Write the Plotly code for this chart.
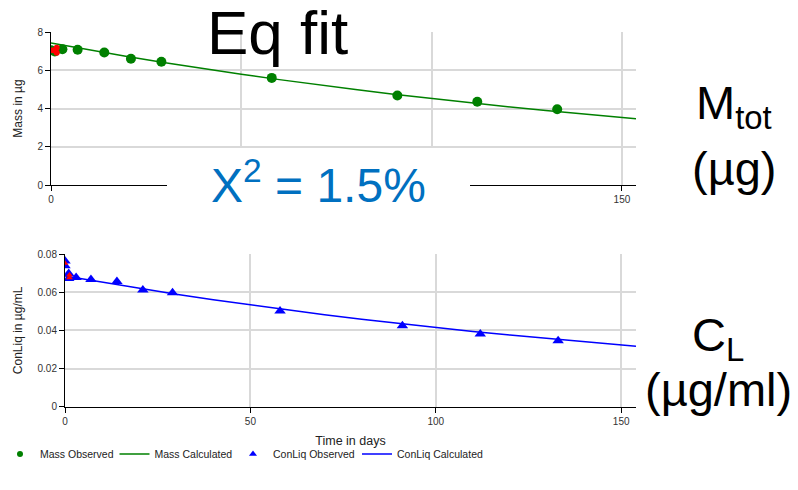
import plotly.graph_objects as go

W, H = 798, 490

# ---- data ----
mass_days = [0, 1, 3, 7, 14, 21, 29, 58, 91, 112, 133]
mass_obs = [7.05, 6.98, 7.1, 7.07, 6.93, 6.6, 6.44, 5.6, 4.68, 4.35, 3.96]
mass_flag_days = [0.5, 1.5, 1.5]
mass_flag = [7.05, 7.18, 6.92]

calc_days = [0, 10, 20, 30, 40, 50, 60, 70, 80, 90, 100, 110, 120, 130, 140, 150, 153.7]
mass_calc = [7.42, 7.06, 6.72, 6.39, 6.08, 5.79, 5.51, 5.24, 4.99, 4.75, 4.52, 4.30, 4.09, 3.89, 3.71, 3.53, 3.47]

conliq_days = [0, 0, 1, 1, 3, 7, 14, 21, 29, 58, 91, 112, 133]
conliq_obs = [0.0763, 0.0738, 0.0698, 0.0672, 0.0677, 0.0667, 0.0656, 0.0611, 0.0597, 0.0501, 0.0424, 0.0381, 0.0346]
conliq_flag_days = [0, 1.2, 1.2]
conliq_flag = [0.0752, 0.0690, 0.0675]

calc_days2 = [0, 10, 20, 30, 40, 50, 60, 70, 80, 90, 100, 110, 120, 130, 140, 150, 154]
conliq_calc = [0.0685, 0.0652, 0.0619, 0.0589, 0.0560, 0.0533, 0.0507, 0.0482, 0.0458, 0.0436,
               0.0415, 0.0394, 0.0375, 0.0357, 0.0339, 0.0323, 0.0317]

x_ticks_top = [0, 150]          # 50 and 100 labels sit behind the chi-square panel
x_ticks = [0, 50, 100, 150]
mass_ticks = [0, 2, 4, 6, 8]
conliq_ticks = [0, 0.02, 0.04, 0.06, 0.08]
conliq_ticklabels = ["0", "0.02", "0.04", "0.06", "0.08"]

GREEN = "#008000"
BLUE = "#0000ff"
RED = "#ff0000"
FONT = "Liberation Sans, Arial, sans-serif"
GRID = "#d9d9d9"

def px_x(p):
    return p / W

def px_y(p):
    return 1 - p / H

fig = go.Figure()

# top panel
fig.add_trace(go.Scatter(x=mass_days, y=mass_obs, mode="markers", xaxis="x", yaxis="y",
                         marker=dict(symbol="circle", size=10, color=GREEN),
                         name="Mass Observed", showlegend=False))
fig.add_trace(go.Scatter(x=calc_days, y=mass_calc, mode="lines", xaxis="x", yaxis="y",
                         line=dict(color=GREEN, width=1.5), name="Mass Calculated", showlegend=False))
fig.add_trace(go.Scatter(x=mass_flag_days, y=mass_flag, mode="markers", xaxis="x", yaxis="y",
                         marker=dict(symbol="circle", size=6, color=RED), showlegend=False))

# bottom panel
fig.add_trace(go.Scatter(x=conliq_days, y=conliq_obs, mode="markers", xaxis="x2", yaxis="y2",
                         marker=dict(symbol="triangle-up", size=10, color=BLUE),
                         name="ConLiq Observed", showlegend=False))
fig.add_trace(go.Scatter(x=calc_days2, y=conliq_calc, mode="lines", xaxis="x2", yaxis="y2",
                         line=dict(color=BLUE, width=1.5), name="ConLiq Calculated", showlegend=False))
fig.add_trace(go.Scatter(x=conliq_flag_days, y=conliq_flag, mode="markers", xaxis="x2", yaxis="y2",
                         marker=dict(symbol="triangle-up", size=6, color=RED), showlegend=False))

# legend entries (no data, legend symbols only)
fig.add_trace(go.Scatter(x=[None], y=[None], mode="markers", xaxis="x2", yaxis="y2",
                         marker=dict(symbol="circle", size=6, color=GREEN), name="Mass Observed",
                         legendwidth=69.5))
fig.add_trace(go.Scatter(x=[None], y=[None], mode="lines", xaxis="x2", yaxis="y2",
                         line=dict(color=GREEN, width=1.5), name="Mass Calculated",
                         legendwidth=73.5))
fig.add_trace(go.Scatter(x=[None], y=[None], mode="markers", xaxis="x2", yaxis="y2",
                         marker=dict(symbol="triangle-up", size=7, color=BLUE), name="ConLiq Observed",
                         legendwidth=79))
fig.add_trace(go.Scatter(x=[None], y=[None], mode="lines", xaxis="x2", yaxis="y2",
                         line=dict(color=BLUE, width=1.5), name="ConLiq Calculated",
                         legendwidth=95))

axis_common = dict(showgrid=True, gridcolor=GRID, gridwidth=1.5, zeroline=False,
                   showline=True, linecolor="#000000", linewidth=1,
                   ticks="outside", ticklen=5, tickcolor="#000000",
                   tickfont=dict(size=10, color="#333333", family=FONT))

fig.update_layout(
    width=W, height=H,
    margin=dict(l=0, r=0, t=0, b=0, autoexpand=False),
    paper_bgcolor="white", plot_bgcolor="white",
    font=dict(family=FONT, color="#222222"),
    xaxis=dict(domain=[px_x(51), px_x(636)], range=[0, 153.7], anchor="y",
               tickvals=x_ticks_top,
               minor=dict(tick0=0, dtick=50, showgrid=True, gridcolor=GRID, gridwidth=1.5, ticks=""),
               **axis_common),
    yaxis=dict(domain=[px_y(185), px_y(32)], range=[0, 8], anchor="x",
               tickvals=mass_ticks,
               title=dict(text="Mass in µg", font=dict(size=12, color="#222222"), standoff=12),
               **axis_common),
    xaxis2=dict(domain=[px_x(65), px_x(636)], range=[0, 154], anchor="y2",
                tickvals=x_ticks,
                title=dict(text="Time in days", font=dict(size=12.5, color="#222222"), standoff=10),
                **axis_common),
    yaxis2=dict(domain=[px_y(406.7), px_y(254)], range=[0, 0.08], anchor="x2",
                tickvals=conliq_ticks, ticktext=conliq_ticklabels,
                title=dict(text="ConLiq in µg/mL", font=dict(size=12, color="#222222"), standoff=12),
                **axis_common),
    legend=dict(orientation="h", x=0, xanchor="left", y=px_y(454), yanchor="middle",
                font=dict(size=10.5, color="#222222"), bgcolor="rgba(0,0,0,0)",
                tracegroupgap=0),
    shapes=[
        # white panel behind the chi-square label
        dict(type="rect", xref="paper", yref="paper",
             x0=px_x(167), x1=px_x(470), y0=px_y(213), y1=px_y(148),
             fillcolor="white", line=dict(width=0), layer="above"),
    ],
)

annotations = [
    dict(text="X<sup>2</sup> = 1.5%", xref="paper", yref="paper", x=px_x(318), y=px_y(182),
         xanchor="center", yanchor="middle", showarrow=False,
         font=dict(size=48, color="#0070C0", family=FONT)),
    dict(text="Eq fit", xref="paper", yref="paper", x=px_x(277.5), y=px_y(32),
         xanchor="center", yanchor="middle", showarrow=False,
         font=dict(size=62, color="#000000", family=FONT)),
    dict(text="M<sub>tot</sub>", xref="paper", yref="paper", x=px_x(734), y=px_y(106),
         xanchor="center", yanchor="middle", showarrow=False,
         font=dict(size=47, color="#000000", family=FONT)),
    dict(text="(µg)", xref="paper", yref="paper", x=px_x(734), y=px_y(168),
         xanchor="center", yanchor="middle", showarrow=False,
         font=dict(size=47, color="#000000", family=FONT)),
    dict(text="C<sub>L</sub>", xref="paper", yref="paper", x=px_x(718), y=px_y(338),
         xanchor="center", yanchor="middle", showarrow=False,
         font=dict(size=47, color="#000000", family=FONT)),
    dict(text="(µg/ml)", xref="paper", yref="paper", x=px_x(718), y=px_y(389),
         xanchor="center", yanchor="middle", showarrow=False,
         font=dict(size=47, color="#000000", family=FONT)),
]
fig.update_layout(annotations=annotations)

fig.write_html("out.html")
